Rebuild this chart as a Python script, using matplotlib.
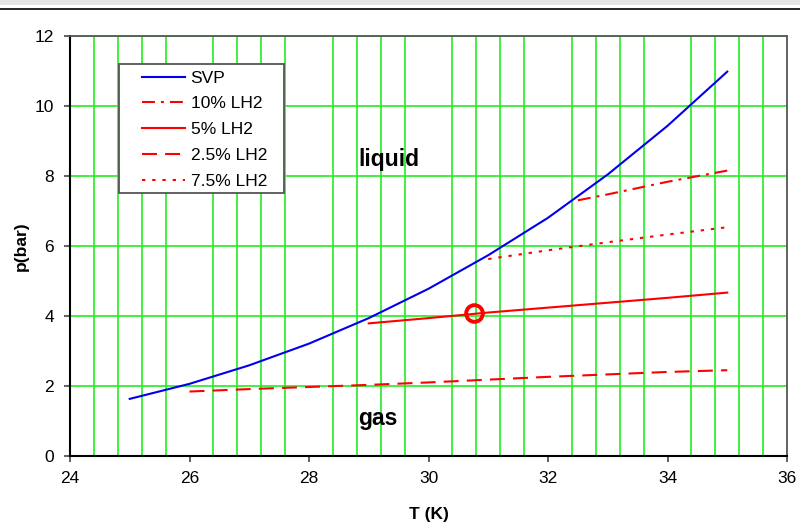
import numpy as np
import matplotlib.pyplot as plt
from matplotlib.patches import Rectangle
from matplotlib.lines import Line2D

plt.rcParams['font.family'] = ['Liberation Sans', 'DejaVu Sans']

# saturated vapour pressure
svp_T = [25, 26, 27, 28, 29, 30, 31, 32, 33, 34, 35]
svp_p = [1.62, 2.05, 2.58, 3.20, 3.93, 4.77, 5.73, 6.80, 8.04, 9.43, 10.98]

lh10_T = [32.5, 33, 34, 35]
lh10_p = [7.30, 7.47, 7.83, 8.15]

lh5_T = [29, 30, 31, 32, 33, 34, 35]
lh5_p = [3.78, 3.93, 4.09, 4.23, 4.37, 4.51, 4.66]

lh25_T = [26, 27, 28, 29, 30, 31, 32, 33, 34, 35]
lh25_p = [1.83, 1.90, 1.96, 2.02, 2.09, 2.17, 2.25, 2.32, 2.39, 2.44]

lh75_T = [31, 32, 33, 34, 35]
lh75_p = [5.62, 5.87, 6.10, 6.32, 6.53]

point_T = [30.76]
point_p = [4.07]

fig = plt.figure(figsize=(8, 5.24), dpi=100)
ax = fig.add_axes([70 / 800, 1 - 455.5 / 524, 717 / 800, 419.5 / 524])

# screenshot frame at top
fig.add_artist(Rectangle((0, 1 - 5 / 524), 1, 5 / 524, transform=fig.transFigure,
                         color='#e4e4e4', lw=0))
fig.add_artist(Line2D([0, 1], [1 - 9 / 524, 1 - 9 / 524], transform=fig.transFigure,
                      color='black', lw=1.2))

ax.set_xlim(24, 36)
ax.set_ylim(0, 12)
ax.set_xticks(np.arange(24, 37, 2))
ax.set_yticks(np.arange(0, 13, 2))
ax.set_xticks(np.arange(24, 36.01, 0.4), minor=True)
ax.tick_params(which='minor', length=0)
ax.tick_params(which='major', direction='out', length=4.5, width=1.3, color='#555555',
               labelsize=12.5, pad=7)
ax.grid(axis='y', which='major', color='#22ee22', lw=1.2)
ax.grid(axis='x', which='minor', color='#22ee22', lw=1.2)
ax.set_axisbelow(True)

for s in ['left', 'bottom']:
    ax.spines[s].set_color('black')
    ax.spines[s].set_linewidth(1.5)
for s in ['top', 'right']:
    ax.spines[s].set_color('#555555')
    ax.spines[s].set_linewidth(1.3)

ax.plot(svp_T, svp_p, color='#0000ee', lw=1.5, label='SVP')
ax.plot(lh10_T, lh10_p, color='red', lw=1.5, dashes=(6.2, 2.9, 1.4, 2.9), label='10% LH2')
ax.plot(lh5_T, lh5_p, color='red', lw=1.5, label='5% LH2')
ax.plot(lh25_T, lh25_p, color='red', lw=1.5, dashes=(7.2, 3.9), label='2.5% LH2')
ax.plot(lh75_T, lh75_p, color='red', lw=1.5, dashes=(1.6, 3.3), label='7.5% LH2')
ax.plot(point_T, point_p, 'o', ms=12, mfc='none', mec='red', mew=2.8)

ax.text(28.82, 8.28, 'liquid', fontsize=16.5, fontweight='bold', ha='left', va='baseline')
ax.text(28.82, 0.87, 'gas', fontsize=16.5, fontweight='bold', ha='left', va='baseline')

ax.set_xlabel('T (K)', fontsize=12.5, fontweight='bold', labelpad=15)
ax.set_ylabel('p(bar)', fontsize=12.5, fontweight='bold', labelpad=4)

fig.add_artist(Rectangle((119 / 800, 1 - 193 / 524), 165 / 800, 129 / 524,
                         transform=fig.transFigure, facecolor='white',
                         edgecolor='#555555', lw=1.3, zorder=5))
leg = fig.legend(loc='upper left', bbox_to_anchor=(142 / 800, 1 - 70.5 / 524),
                 frameon=False, borderpad=0, borderaxespad=0, fontsize=12.5,
                 handlelength=2.5, handletextpad=0.3, labelspacing=0.61)
leg.set_zorder(6)

fig.savefig('out.png', dpi=100)
